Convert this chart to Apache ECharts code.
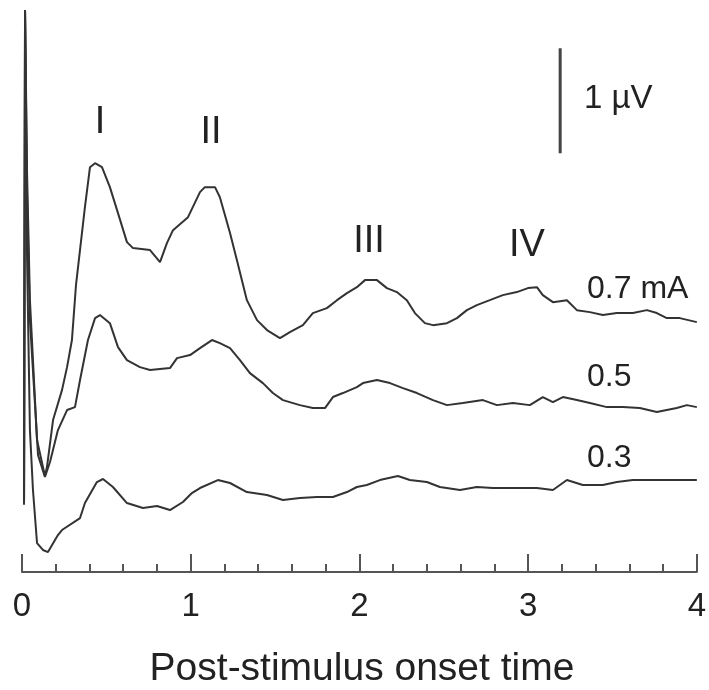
<!DOCTYPE html>
<html>
<head>
<meta charset="utf-8">
<script src="https://cdn.jsdelivr.net/npm/echarts@6/dist/echarts.min.js"></script>
<style>html,body{margin:0;padding:0;background:#fff}#c{width:709px;height:690px}</style>
</head>
<body>
<div id="c"></div>
<script>
// Time (x) 0..4, amplitude in µV (arbitrary offset)
var xTicks = [0, 1, 2, 3, 4];
var traceLabels = ['0.7 mA', '0.5', '0.3'];
var waveLabels = ['I', 'II', 'III', 'IV'];
var scaleBarLabel = '1 µV';
var xTitle = 'Post-stimulus onset time';

var trace07 = [[0.012,0.686],[0.018,5.352],[0.030,3.800],[0.047,2.590],[0.089,1.257],[0.136,0.914],[0.148,1.000],[0.184,1.448],[0.237,1.733],[0.267,1.952],[0.296,2.210],[0.320,2.733],[0.373,3.476],[0.403,3.857],[0.433,3.895],[0.474,3.857],[0.521,3.667],[0.569,3.419],[0.622,3.143],[0.658,3.086],[0.759,3.067],[0.818,2.952],[0.859,3.133],[0.895,3.257],[0.984,3.381],[1.055,3.619],[1.084,3.667],[1.144,3.667],[1.173,3.571],[1.233,3.229],[1.274,2.971],[1.333,2.590],[1.393,2.400],[1.452,2.305],[1.529,2.229],[1.588,2.286],[1.665,2.352],[1.724,2.467],[1.807,2.514],[1.867,2.590],[1.926,2.657],[1.985,2.714],[2.033,2.781],[2.104,2.781],[2.163,2.705],[2.222,2.667],[2.281,2.590],[2.329,2.467],[2.388,2.371],[2.436,2.352],[2.519,2.371],[2.578,2.419],[2.637,2.495],[2.696,2.543],[2.773,2.590],[2.850,2.638],[2.933,2.667],[2.999,2.705],[3.052,2.714],[3.087,2.638],[3.147,2.571],[3.230,2.590],[3.289,2.495],[3.366,2.476],[3.443,2.448],[3.526,2.467],[3.621,2.467],[3.704,2.495],[3.763,2.467],[3.822,2.419],[3.899,2.419],[4.0,2.381]];

var trace05 = [[0.012,0.660],[0.018,5.352],[0.030,3.600],[0.047,2.400],[0.095,1.114],[0.136,0.905],[0.166,1.048],[0.213,1.352],[0.267,1.543],[0.314,1.571],[0.344,1.829],[0.391,2.210],[0.433,2.419],[0.462,2.448],[0.521,2.371],[0.569,2.143],[0.622,2.019],[0.699,1.952],[0.759,1.924],[0.877,1.943],[0.919,2.038],[0.996,2.067],[1.055,2.133],[1.126,2.210],[1.173,2.181],[1.233,2.133],[1.292,2.019],[1.351,1.895],[1.428,1.800],[1.487,1.705],[1.547,1.638],[1.647,1.590],[1.724,1.562],[1.796,1.562],[1.843,1.667],[1.902,1.705],[1.985,1.762],[2.021,1.800],[2.104,1.829],[2.181,1.800],[2.258,1.752],[2.341,1.705],[2.436,1.638],[2.519,1.590],[2.613,1.610],[2.732,1.638],[2.815,1.590],[2.910,1.610],[3.010,1.590],[3.087,1.667],[3.147,1.619],[3.206,1.667],[3.289,1.638],[3.366,1.610],[3.467,1.571],[3.561,1.571],[3.662,1.562],[3.763,1.524],[3.881,1.562],[3.941,1.590],[4.0,1.571]];

var trace03 = [[0.012,0.640],[0.018,5.352],[0.030,3.000],[0.047,1.352],[0.065,0.781],[0.089,0.276],[0.124,0.210],[0.154,0.190],[0.213,0.352],[0.237,0.400],[0.344,0.514],[0.373,0.657],[0.444,0.857],[0.480,0.886],[0.539,0.810],[0.622,0.657],[0.717,0.610],[0.800,0.629],[0.877,0.590],[0.954,0.667],[1.007,0.752],[1.055,0.800],[1.161,0.876],[1.233,0.848],[1.333,0.762],[1.452,0.733],[1.547,0.686],[1.647,0.705],[1.748,0.714],[1.843,0.714],[1.926,0.762],[1.985,0.810],[2.044,0.829],[2.121,0.876],[2.228,0.914],[2.299,0.876],[2.400,0.857],[2.477,0.810],[2.596,0.781],[2.696,0.810],[2.791,0.800],[2.933,0.800],[3.052,0.800],[3.147,0.781],[3.230,0.876],[3.324,0.829],[3.443,0.829],[3.526,0.857],[3.621,0.876],[3.721,0.876],[3.822,0.876],[3.917,0.876],[4.0,0.876]];

var scaleBar = [[3.19, 3.99], [3.19, 4.99]];

var FONT = '"Liberation Sans", Arial, sans-serif';
var chart = echarts.init(document.getElementById('c'), null, {renderer: 'canvas'});

function traceSeries(name, data) {
  return {
    name: name, type: 'line', data: data, symbol: 'none', smooth: false,
    lineStyle: {color: '#333', width: 2}, silent: true, animation: false
  };
}

function txt(text, x, y, size, align) {
  return {
    type: 'text', x: x, y: y, silent: true,
    style: {text: text, font: size + 'px ' + FONT, fill: '#222', align: align || 'center', verticalAlign: 'middle'}
  };
}

var option = {
  animation: false,
  backgroundColor: '#ffffff',
  grid: {left: 22, right: 12, top: 0, bottom: 118, containLabel: false},
  xAxis: {
    type: 'value', min: 0, max: 4, interval: 1,
    axisLine: {show: true, lineStyle: {color: '#555', width: 2}},
    axisTick: {show: true, inside: true, length: 18, lineStyle: {color: '#555', width: 2}},
    minorTick: {show: true, splitNumber: 5, length: 8, lineStyle: {color: '#555', width: 2}},
    splitLine: {show: false},
    axisLabel: {
      fontSize: 33, fontFamily: FONT, color: '#222', margin: 18,
      formatter: function (v) { return xTicks.indexOf(v) >= 0 ? String(v) : ''; }
    }
  },
  yAxis: {type: 'value', min: 0, max: 5.45, show: false},
  series: [
    traceSeries(traceLabels[0], trace07),
    traceSeries(traceLabels[1], trace05),
    traceSeries(traceLabels[2], trace03),
    {type: 'line', data: scaleBar, symbol: 'none', lineStyle: {color: '#444', width: 3}, silent: true}
  ],
  graphic: [
    txt(waveLabels[0], 100, 123, 38),
    txt(waveLabels[1], 211, 133, 38),
    txt(waveLabels[2], 369, 242, 38),
    txt(waveLabels[3], 527, 246, 38),
    txt(scaleBarLabel, 584, 99, 33, 'left'),
    txt(traceLabels[0], 587, 289, 32, 'left'),
    txt(traceLabels[1], 587, 377, 32, 'left'),
    txt(traceLabels[2], 587, 458, 32, 'left'),
    txt(xTitle, 362, 669, 39)
  ]
};
chart.setOption(option);
</script>
</body>
</html>
